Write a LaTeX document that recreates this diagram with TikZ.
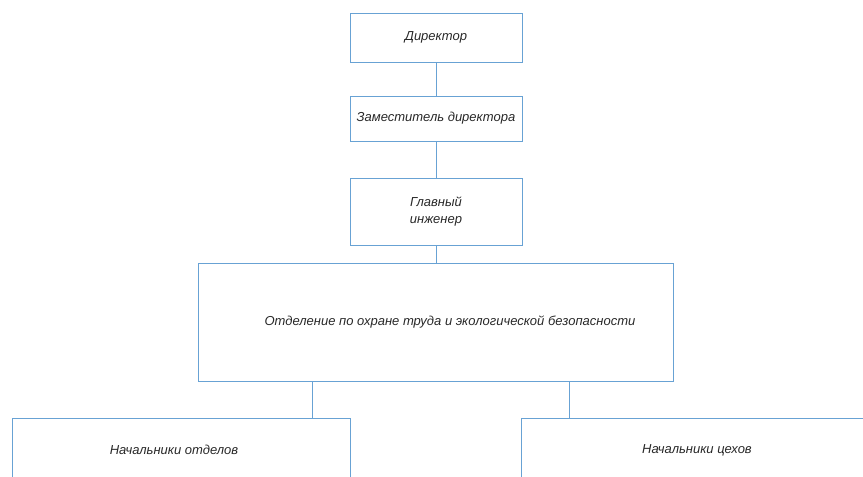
\documentclass[tikz,border=0pt]{standalone}
\usepackage{fontspec}
\setmainfont{Liberation Sans}
\usetikzlibrary{positioning}
\definecolor{boxline}{RGB}{104,162,212}
\definecolor{labeltext}{RGB}{40,40,40}
\tikzset{
  orgbox/.style={draw=boxline, line width=0.9pt, inner sep=0pt, align=center,
    font=\itshape\fontsize{13}{17}\selectfont, text=labeltext},
  orglabel/.style={inner sep=0pt, font=\itshape\fontsize{13}{17}\selectfont, text=labeltext},
  orgline/.style={draw=boxline, line width=0.9pt}
}

\begin{document}
\begin{tikzpicture}[x=1pt,y=1pt,yscale=-1]
\useasboundingbox (0,0) rectangle (863,477);
\clip (0,0) rectangle (863,477);

% Boxes
\node[orgbox, minimum width=172, minimum height=49] (director) at (436,37.5) {Директор};
\node[orgbox, minimum width=172, minimum height=45] (deputy) at (436,118.5) {Заместитель директора};
\node[orgbox, minimum width=172, minimum height=67] (chief) at (436,211.5) {Главный\\инженер};
\node[orgbox, minimum width=475, minimum height=118] (safety) at (436,322) {};
\node[orglabel] (safetylabel) at (450,322) {Отделение по охране труда и экологической безопасности};
\node[orgbox, minimum width=338, minimum height=64] (depheads) at (181,450) {};
\node[orglabel] (depheadslabel) at (174,450) {Начальники отделов};
\node[orgbox, minimum width=352, minimum height=64] (shopheads) at (697,450) {Начальники цехов};

% Connectors
\coordinate (leftdrop) at (312,0);
\coordinate (rightdrop) at (569,0);
\draw[orgline] (director) -- (deputy);
\draw[orgline] (deputy) -- (chief);
\draw[orgline] (chief) -- (safety);
\draw[orgline] (safety.south -| leftdrop) -- (depheads.north -| leftdrop);
\draw[orgline] (safety.south -| rightdrop) -- (shopheads.north -| rightdrop);

\end{tikzpicture}
\end{document}
